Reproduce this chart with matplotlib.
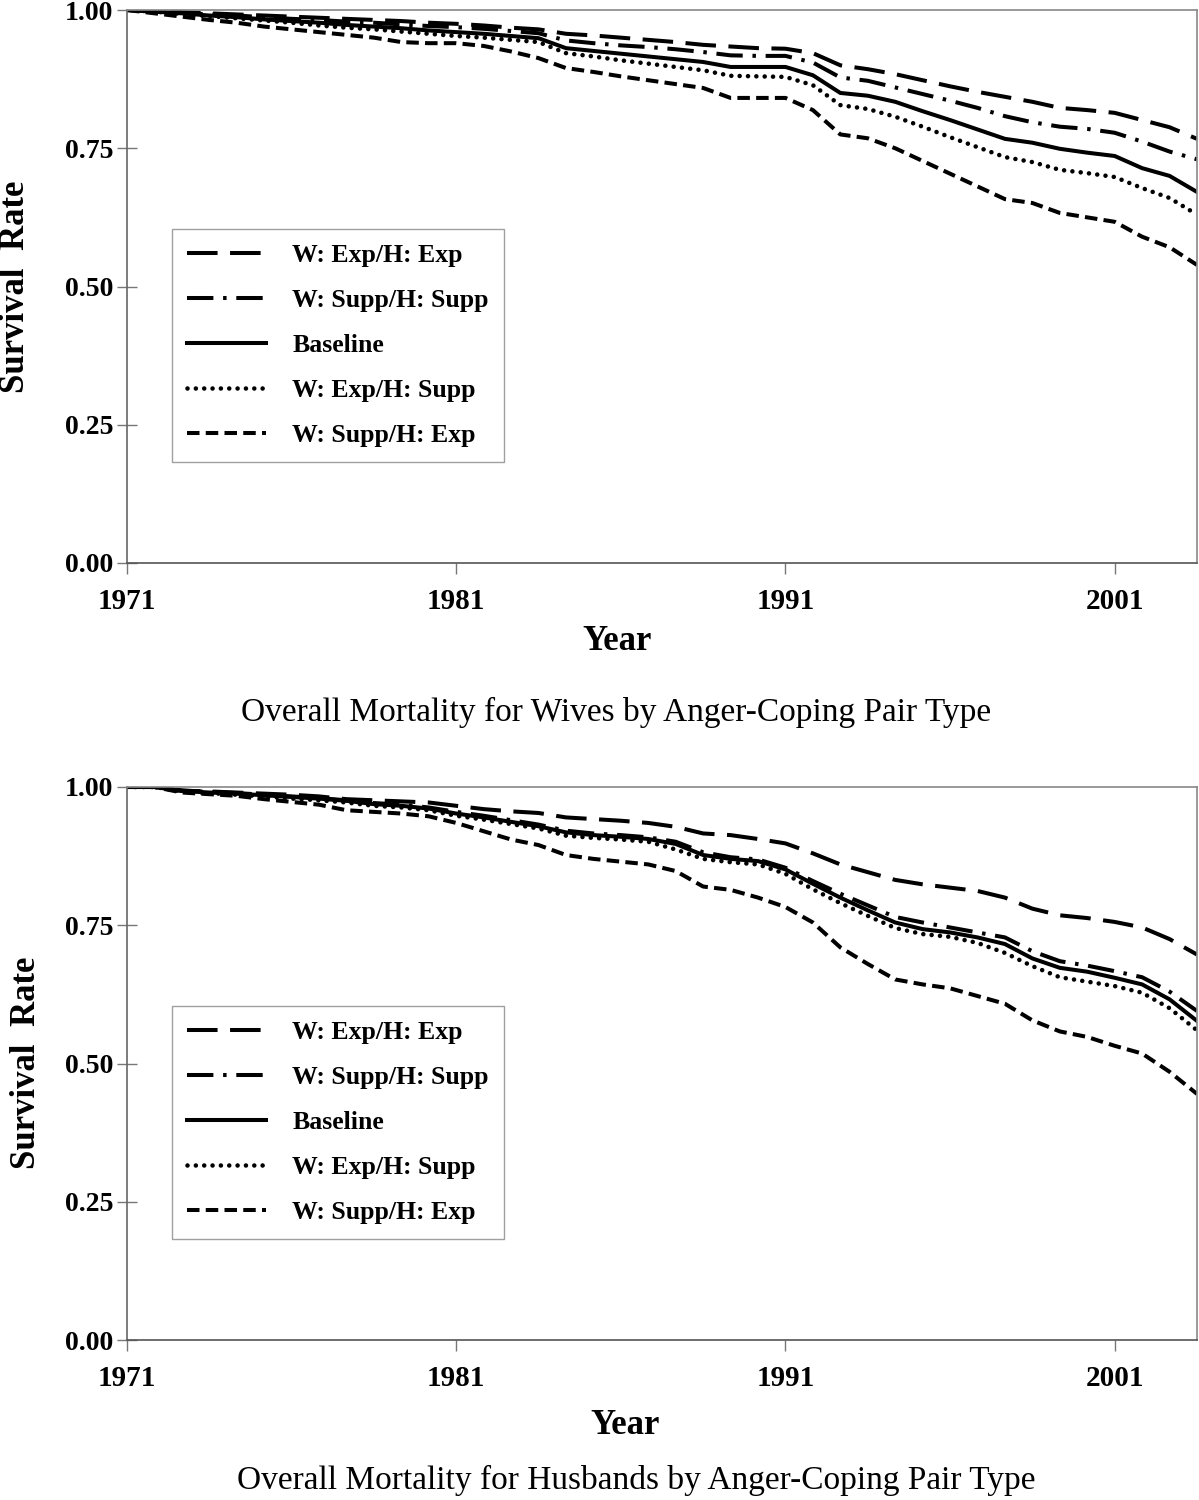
import numpy as np
import matplotlib
matplotlib.use("Agg")
import matplotlib.pyplot as plt

plt.rcParams['font.family'] = ['Liberation Serif', 'DejaVu Serif']
plt.rcParams['lines.scale_dashes'] = False

# ---- data -------------------------------------------------------------
tick_idx = [0, 12, 24, 36]
year_labels = ['1971', '1981', '1991', '2001']
series_names = ['W: Exp/H: Exp', 'W: Supp/H: Supp', 'Baseline',
                'W: Exp/H: Supp', 'W: Supp/H: Exp']

w_exp_exp = [1.000, 0.998, 0.996, 0.994, 0.992, 0.990, 0.988, 0.986, 0.984, 0.982,
             0.980, 0.977, 0.975, 0.972, 0.968, 0.965, 0.957, 0.954, 0.950, 0.946,
             0.942, 0.937, 0.934, 0.931, 0.930, 0.922, 0.900, 0.893, 0.884, 0.873,
             0.862, 0.852, 0.843, 0.834, 0.823, 0.819, 0.814, 0.801, 0.788, 0.767]
w_supp_supp = [1.000, 0.998, 0.995, 0.992, 0.990, 0.987, 0.984, 0.982, 0.979, 0.977,
               0.974, 0.971, 0.969, 0.966, 0.962, 0.958, 0.945, 0.940, 0.936, 0.933,
               0.929, 0.924, 0.918, 0.917, 0.917, 0.905, 0.878, 0.872, 0.860, 0.848,
               0.836, 0.823, 0.808, 0.797, 0.789, 0.785, 0.778, 0.762, 0.744, 0.730]
w_baseline = [1.000, 0.997, 0.994, 0.990, 0.987, 0.983, 0.980, 0.977, 0.973, 0.970,
              0.967, 0.963, 0.960, 0.957, 0.953, 0.949, 0.931, 0.926, 0.921, 0.916,
              0.911, 0.906, 0.897, 0.897, 0.897, 0.882, 0.850, 0.845, 0.834, 0.817,
              0.801, 0.784, 0.767, 0.760, 0.749, 0.742, 0.736, 0.714, 0.700, 0.671]
w_exp_supp = [1.000, 0.997, 0.993, 0.989, 0.985, 0.981, 0.977, 0.972, 0.968, 0.965,
              0.961, 0.957, 0.953, 0.950, 0.946, 0.942, 0.922, 0.916, 0.909, 0.903,
              0.897, 0.891, 0.881, 0.880, 0.879, 0.864, 0.828, 0.821, 0.807, 0.789,
              0.770, 0.752, 0.734, 0.725, 0.711, 0.705, 0.698, 0.678, 0.660, 0.630]
w_supp_exp = [1.000, 0.994, 0.988, 0.982, 0.977, 0.970, 0.965, 0.960, 0.955, 0.950,
              0.942, 0.940, 0.940, 0.935, 0.925, 0.913, 0.895, 0.888, 0.880, 0.873,
              0.866, 0.859, 0.841, 0.841, 0.841, 0.819, 0.775, 0.768, 0.750, 0.727,
              0.704, 0.681, 0.658, 0.651, 0.633, 0.625, 0.617, 0.590, 0.571, 0.539]

h_exp_exp = [1.000, 1.000, 0.993, 0.992, 0.990, 0.988, 0.986, 0.983, 0.978, 0.976,
             0.974, 0.972, 0.966, 0.960, 0.956, 0.953, 0.945, 0.942, 0.939, 0.935,
             0.928, 0.916, 0.913, 0.906, 0.898, 0.880, 0.860, 0.846, 0.832, 0.824,
             0.818, 0.812, 0.800, 0.780, 0.768, 0.763, 0.756, 0.746, 0.725, 0.697]
h_supp_supp = [1.000, 1.000, 0.994, 0.991, 0.989, 0.986, 0.983, 0.980, 0.976, 0.971,
               0.968, 0.963, 0.955, 0.948, 0.940, 0.932, 0.921, 0.916, 0.913, 0.909,
               0.901, 0.882, 0.873, 0.869, 0.854, 0.830, 0.807, 0.786, 0.765, 0.755,
               0.746, 0.737, 0.728, 0.703, 0.685, 0.677, 0.667, 0.656, 0.630, 0.595]
h_baseline = [1.000, 1.000, 0.993, 0.990, 0.988, 0.985, 0.982, 0.979, 0.975, 0.969,
              0.966, 0.961, 0.952, 0.945, 0.937, 0.929, 0.918, 0.913, 0.910, 0.906,
              0.897, 0.877, 0.870, 0.866, 0.851, 0.825, 0.800, 0.777, 0.755, 0.743,
              0.737, 0.728, 0.716, 0.690, 0.673, 0.666, 0.655, 0.643, 0.616, 0.577]
h_exp_supp = [1.000, 1.000, 0.992, 0.989, 0.986, 0.983, 0.979, 0.976, 0.972, 0.966,
              0.963, 0.958, 0.948, 0.941, 0.933, 0.925, 0.912, 0.908, 0.905, 0.901,
              0.887, 0.870, 0.864, 0.860, 0.843, 0.815, 0.790, 0.767, 0.745, 0.734,
              0.729, 0.718, 0.700, 0.676, 0.656, 0.648, 0.640, 0.628, 0.600, 0.560]
h_supp_exp = [1.000, 1.000, 0.990, 0.987, 0.984, 0.978, 0.973, 0.968, 0.958, 0.955,
              0.952, 0.947, 0.935, 0.920, 0.905, 0.895, 0.877, 0.870, 0.865, 0.860,
              0.848, 0.820, 0.814, 0.800, 0.783, 0.755, 0.710, 0.680, 0.652, 0.643,
              0.636, 0.622, 0.608, 0.578, 0.558, 0.548, 0.532, 0.518, 0.485, 0.445]

wives = [w_exp_exp, w_supp_supp, w_baseline, w_exp_supp, w_supp_exp]
husbands = [h_exp_exp, h_supp_supp, h_baseline, h_exp_supp, h_supp_exp]

# ---- styles -------------------------------------------------------------
styles = [
    dict(dashes=(22, 9), dash_capstyle='butt', lw=2.9),
    dict(dashes=(19, 7, 2.5, 7), dash_capstyle='butt', lw=2.9),
    dict(linestyle='-', lw=2.9),
    dict(dashes=(0.01, 6), dash_capstyle='round', lw=3.3),
    dict(dashes=(9, 4.5), dash_capstyle='butt', lw=2.9),
]

W, H = 1199, 1500
fig = plt.figure(figsize=(W / 100, H / 100), dpi=100)
ax_l = 127 / W
ax_w = 1070 / W
ax_h = 553 / H
panels = [
    dict(bottom=1 - 563 / H, data=wives,
         caption='Overall Mortality for Wives by Anger-Coping Pair Type',
         cap_xy=(616, 712), year_xy=(617, 641), ylab_xy=(16, 287)),
    dict(bottom=1 - 1340 / H, data=husbands,
         caption='Overall Mortality for Husbands by Anger-Coping Pair Type',
         cap_xy=(636, 1480), year_xy=(625, 1425), ylab_xy=(27, 1063)),
]

for p in panels:
    ax = fig.add_axes([ax_l, p['bottom'], ax_w, ax_h])
    data = p['data']
    x = np.arange(len(data[0]))
    for vals, name, st in zip(data, series_names, styles):
        ax.plot(x, vals, color='black', label=name, **st)
    ax.set_xlim(0, 39)
    ax.set_ylim(0, 1.0)
    ax.set_xticks(tick_idx)
    ax.set_xticklabels(year_labels, fontsize=21, fontweight='bold')
    ax.set_yticks([0, 0.25, 0.5, 0.75, 1.0])
    ax.set_yticklabels(['0.00', '0.25', '0.50', '0.75', '1.00'], fontsize=20, fontweight='bold')
    ax.tick_params(axis='x', direction='out', length=8, width=1, color='#777777', pad=10)
    ax.tick_params(axis='y', direction='inout', length=14, width=1, color='#777777', pad=3)
    for sp in ax.spines.values():
        sp.set_color('#888888')
        sp.set_linewidth(1.2)
    ax.spines['left'].set_color('#666666')
    ax.spines['bottom'].set_color('#555555')
    leg = ax.legend(loc='upper left', bbox_to_anchor=(0.042, 0.604), borderaxespad=0,
                    fancybox=False, frameon=True, handlelength=3.1, handletextpad=1.0,
                    labelspacing=0.86, borderpad=0.58,
                    prop=dict(family='Liberation Serif', weight='bold', size=18.5))
    leg.get_frame().set_edgecolor('#888888')
    leg.get_frame().set_linewidth(1.0)
    fig.text(p['year_xy'][0] / W, 1 - p['year_xy'][1] / H, 'Year',
             ha='center', va='center', fontsize=25, fontweight='bold')
    fig.text(p['ylab_xy'][0] / W, 1 - p['ylab_xy'][1] / H, 'Survival  Rate',
             ha='center', va='center', rotation=90, fontsize=25, fontweight='bold')
    fig.text(p['cap_xy'][0] / W, 1 - p['cap_xy'][1] / H, p['caption'],
             ha='center', va='center', fontsize=24)

fig.savefig('out.png', dpi=100)
